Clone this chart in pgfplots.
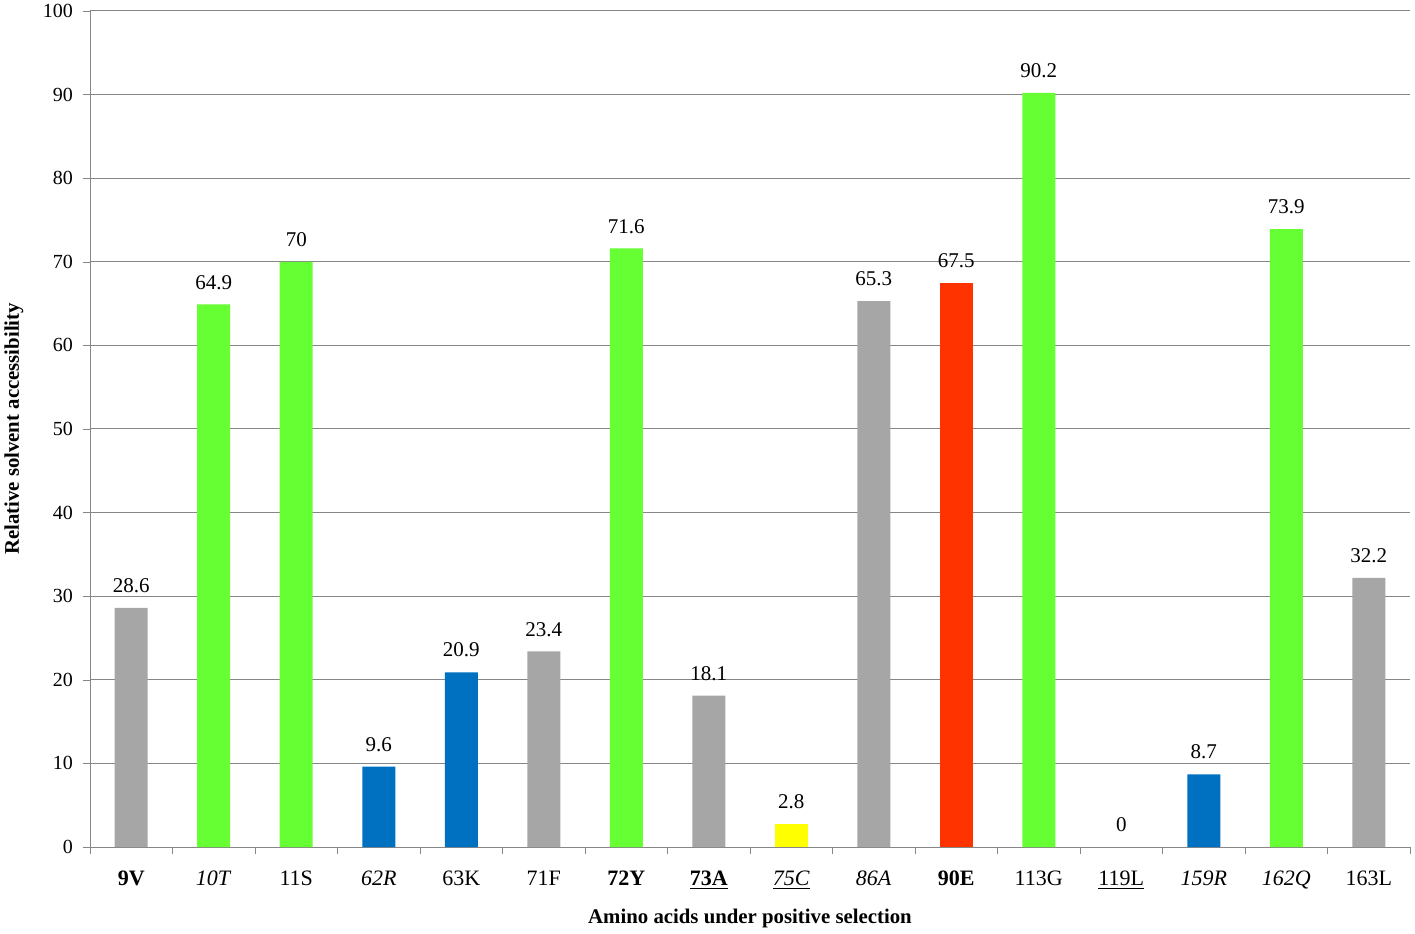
\documentclass[border=0pt]{standalone}
\usepackage{pgfplots}
\pgfplotsset{compat=1.18}
\usepackage{fontspec}
\setmainfont{Liberation Serif}
\definecolor{cgray}{HTML}{A6A6A6}
\definecolor{cgreen}{HTML}{66FF33}
\definecolor{cblue}{HTML}{0070C0}
\definecolor{cyellow}{HTML}{FFFF00}
\definecolor{cred}{HTML}{FF3300}
\definecolor{gridc}{HTML}{868686}
\begin{document}
\begin{tikzpicture}
\useasboundingbox (-45pt,-43pt) rectangle (662.5pt,423.5pt);
\begin{axis}[
  at={(0,0)}, anchor=south west,
  scale only axis, width=660pt, height=418pt,
  xmin=-0.5, xmax=15.5, ymin=0, ymax=100,
  ybar, bar width=16.5pt, bar shift=0pt,
  axis lines*=left,
  axis line style={gridc},
  ytick={0,10,...,100},
  xtick={0,...,15},
  major x tick style={draw=none},
  minor xtick={-0.5,0.5,...,15.5},
  minor x tick style={gridc},
  minor tick length=3.5pt,
  major tick length=3.5pt,
  y tick style={gridc},
  tick align=outside,
  ymajorgrids, grid style={gridc, line width=0.5pt},
  xticklabels={{\textbf{9V}},{\textit{10T}},{11S},{\textit{62R}},{63K},{71F},{\textbf{72Y}},{\underline{\textbf{73A}}},{\underline{\textit{75C}}},{\textit{86A}},{\textbf{90E}},{113G},{\underline{119L}},{\textit{159R}},{\textit{162Q}},{163L}},
  xticklabel style={font=\fontsize{11}{13}\selectfont, yshift=-5pt},
  yticklabel style={font=\fontsize{10}{12}\selectfont, xshift=-1.5pt},
  /pgf/number format/assume math mode=true,
  nodes near coords,
  every node near coord/.append style={font=\fontsize{10.5}{12}\selectfont, yshift=4pt, black},
  xlabel={\textbf{Amino acids under positive selection}},
  ylabel={\textbf{Relative solvent accessibility}},
  every axis x label/.style={at={(axis description cs:0.5,0)}, anchor=center, yshift=-35.5pt, font=\fontsize{10.4}{12}\selectfont},
  every axis y label/.style={at={(axis description cs:0,0.5)}, xshift=-38pt, rotate=90, anchor=center, font=\fontsize{10.4}{12}\selectfont},
]
\addplot[fill=cgray, draw=none] coordinates {(0,28.6) (5,23.4) (7,18.1) (9,65.3) (15,32.2)};
\addplot[fill=cgreen, draw=none] coordinates {(1,64.9) (2,70) (6,71.6) (11,90.2) (14,73.9)};
\addplot[fill=cblue, draw=none] coordinates {(3,9.6) (4,20.9) (13,8.7)};
\addplot[fill=cyellow, draw=none] coordinates {(8,2.8)};
\addplot[fill=cred, draw=none] coordinates {(10,67.5)};
\addplot[fill=none, draw=none] coordinates {(12,0)};
\end{axis}
\end{tikzpicture}
\end{document}
